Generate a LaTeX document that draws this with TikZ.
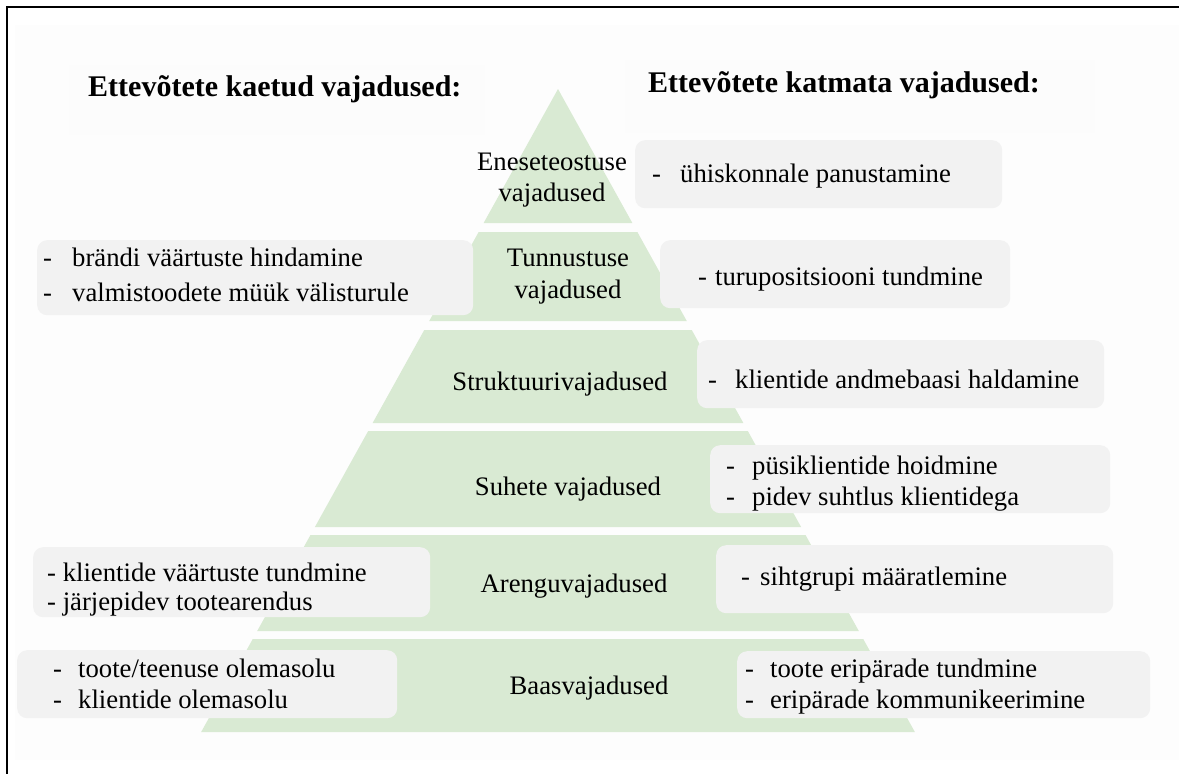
\documentclass[tikz,border=0pt]{standalone}
\usepackage{fontspec}
\setmainfont{Liberation Serif}
\definecolor{pyrgreen}{RGB}{217,234,211}
\definecolor{boxgray}{RGB}{242,242,242}
\definecolor{paper}{RGB}{253,253,253}
\definecolor{hdrfill}{RGB}{252,252,252}
\begin{document}
\begin{tikzpicture}[x=1pt,y=-1pt,
  lbl/.style={font=\fontsize{26.7}{32}\selectfont, inner sep=0pt, anchor=base},
  itm/.style={font=\fontsize{26.7}{32}\selectfont, inner sep=0pt, anchor=base west},
  hdr/.style={font=\fontsize{30}{36}\selectfont\bfseries, inner sep=0pt, anchor=base west},
  gbox/.style={fill=boxgray, draw=none, rounded corners=10pt, inner sep=0pt, anchor=north west},
  hbox/.style={fill=hdrfill, draw=none, inner sep=0pt, anchor=north west},
  layer/.style={fill=pyrgreen, draw=none}]
\useasboundingbox (0,0) rectangle (1179,774);
\fill[white] (0,0) rectangle (1179,774);
\fill[paper] (15,25) rectangle (1179,760);

% frame lines (top and left)
\draw[line width=2pt] (7,774) -- (7,7) -- (1179,7);

% header backgrounds
\node[hbox, minimum width=416pt, minimum height=70pt] (hbl) at (69,65) {};
\node[hbox, minimum width=470pt, minimum height=73pt] (hbr) at (625,60) {};

% pyramid: one triangle (apex 558,89) cut into six bands
\fill[layer] (558,89) -- ({558+0.555*(223-89)},223) -- ({558-0.555*(223-89)},223) -- cycle;
\foreach \t/\b in {232/321, 330/423, 431/527, 535/631, 639/732}{
  \fill[layer] ({558-0.555*(\t-89)},\t) -- ({558+0.555*(\t-89)},\t)
    -- ({558+0.555*(\b-89)},\b) -- ({558-0.555*(\b-89)},\b) -- cycle;
}

% headers
\node[hdr] (hl) at (88,96) {Ettevõtete kaetud vajadused:};
\node[hdr] (hr) at (648,92) {Ettevõtete katmata vajadused:};

% grey boxes, right side
\node[gbox, minimum width=367pt, minimum height=68pt] (r1) at (635,140) {};
\node[gbox, minimum width=350pt, minimum height=68pt] (r2) at (660,240) {};
\node[gbox, minimum width=407pt, minimum height=68pt] (r3) at (697,340) {};
\node[gbox, minimum width=400pt, minimum height=68pt] (r4) at (710,445) {};
\node[gbox, minimum width=397pt, minimum height=68pt] (r5) at (716,545) {};
\node[gbox, minimum width=413pt, minimum height=67pt] (r6) at (737,651) {};

% grey boxes, left side
\node[gbox, minimum width=436pt, minimum height=75pt] (l2) at (37,240) {};
\node[gbox, minimum width=397pt, minimum height=70pt] (l5) at (33,547) {};
\node[gbox, minimum width=380pt, minimum height=68pt] (l6) at (17,650) {};

% pyramid labels
\node[lbl] (p1a) at (552,170) {Eneseteostuse};
\node[lbl] (p1b) at (552,201) {vajadused};
\node[lbl] (p2a) at (568,266) {Tunnustuse};
\node[lbl] (p2b) at (568,298) {vajadused};
\node[lbl] (p3) at (560,390) {Struktuurivajadused};
\node[lbl] (p4) at (568,495) {Suhete vajadused};
\node[lbl] (p5) at (574,592) {Arenguvajadused};
\node[lbl] (p6) at (589,694) {Baasvajadused};

% right items
\node[itm] (r1d) at (652,182) {-};
\node[itm] (r1t) at (680,182) {ühiskonnale panustamine};
\node[itm] (r2d) at (698,285) {-};
\node[itm] (r2t) at (715,285) {turupositsiooni tundmine};
\node[itm] (r3d) at (708,388) {-};
\node[itm] (r3t) at (735,388) {klientide andmebaasi haldamine};
\node[itm] (r4d1) at (726,474) {-};
\node[itm] (r4t1) at (752,474) {püsiklientide hoidmine};
\node[itm] (r4d2) at (726,505) {-};
\node[itm] (r4t2) at (752,505) {pidev suhtlus klientidega};
\node[itm] (r5d) at (741,585) {-};
\node[itm] (r5t) at (760,585) {sihtgrupi määratlemine};
\node[itm] (r6d1) at (745,677) {-};
\node[itm] (r6t1) at (770,677) {toote eripärade tundmine};
\node[itm] (r6d2) at (745,708) {-};
\node[itm] (r6t2) at (770,708) {eripärade kommunikeerimine};

% left items
\node[itm] (l2d1) at (43,266) {-};
\node[itm] (l2t1) at (72,266) {brändi väärtuste hindamine};
\node[itm] (l2d2) at (43,301) {-};
\node[itm] (l2t2) at (72,301) {valmistoodete müük välisturule};
\node[itm] (l5t1) at (47,581) {- klientide väärtuste tundmine};
\node[itm] (l5t2) at (47,610) {- järjepidev tootearendus};
\node[itm] (l6d1) at (53,677) {-};
\node[itm] (l6t1) at (78,677) {toote/teenuse olemasolu};
\node[itm] (l6d2) at (53,708) {-};
\node[itm] (l6t2) at (78,708) {klientide olemasolu};
\end{tikzpicture}
\end{document}
